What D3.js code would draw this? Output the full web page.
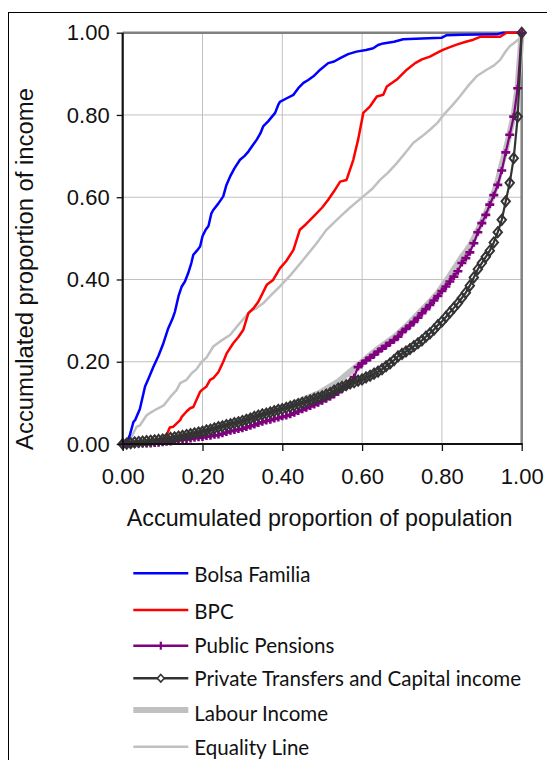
<!DOCTYPE html>
<html><head><meta charset="utf-8">
<script src="https://cdn.jsdelivr.net/npm/d3@7"></script>
<style>body{margin:0;background:#fff}svg{display:block}</style>
</head><body><svg id="c" width="547" height="760"></svg>
<script>
const xTicks = [0, 0.2, 0.4, 0.6, 0.8, 1];
const yTicks = [0, 0.2, 0.4, 0.6, 0.8, 1];
const xTitle = "Accumulated proportion of population";
const yTitle = "Accumulated proportion of income";
const seriesNames = ["Bolsa Familia", "BPC", "Public Pensions", "Private Transfers and Capital income", "Labour Income", "Equality Line"];

const population = [0,0.01,0.02,0.03,0.04,0.05,0.06,0.07,0.08,0.09,0.10,0.11,0.12,0.13,0.14,0.15,0.16,0.17,0.18,0.19,0.20,0.21,0.22,0.23,0.24,0.25,0.26,0.27,0.28,0.29,0.30,0.31,0.32,0.33,0.34,0.35,0.36,0.37,0.38,0.39,0.40,0.41,0.42,0.43,0.44,0.45,0.46,0.47,0.48,0.49,0.50,0.51,0.52,0.53,0.54,0.55,0.56,0.57,0.58,0.59,0.60,0.61,0.62,0.63,0.64,0.65,0.66,0.67,0.68,0.69,0.70,0.71,0.72,0.73,0.74,0.75,0.76,0.77,0.78,0.79,0.80,0.81,0.82,0.83,0.84,0.85,0.86,0.87,0.88,0.89,0.90,0.91,0.92,0.93,0.94,0.95,0.96,0.97,0.98,0.99,1.00];

const publicPensions = [0,0,0,0,0,0,0,0,0.001,0.002,0.003,0.004,0.005,0.007,0.009,0.010,0.011,0.012,0.014,0.015,0.016,0.018,0.019,0.021,0.022,0.025,0.028,0.031,0.033,0.035,0.037,0.040,0.043,0.046,0.050,0.053,0.056,0.058,0.061,0.063,0.066,0.068,0.071,0.075,0.079,0.083,0.087,0.091,0.095,0.099,0.104,0.109,0.114,0.120,0.126,0.133,0.140,0.150,0.163,0.187,0.196,0.203,0.210,0.217,0.225,0.232,0.239,0.246,0.253,0.261,0.272,0.280,0.288,0.297,0.307,0.318,0.328,0.338,0.349,0.360,0.372,0.383,0.395,0.407,0.420,0.440,0.452,0.466,0.488,0.515,0.537,0.557,0.582,0.605,0.630,0.665,0.709,0.752,0.796,0.865,1.000];

const privateTransfers = [0,0.001,0.002,0.004,0.005,0.006,0.007,0.008,0.009,0.010,0.011,0.013,0.015,0.016,0.018,0.020,0.022,0.024,0.026,0.028,0.030,0.033,0.035,0.038,0.041,0.043,0.046,0.048,0.051,0.053,0.056,0.059,0.062,0.066,0.069,0.072,0.074,0.077,0.080,0.083,0.085,0.088,0.091,0.094,0.097,0.100,0.103,0.106,0.110,0.113,0.116,0.120,0.124,0.130,0.135,0.139,0.143,0.147,0.150,0.154,0.157,0.162,0.166,0.171,0.176,0.182,0.189,0.196,0.204,0.213,0.219,0.225,0.231,0.238,0.245,0.252,0.261,0.269,0.278,0.289,0.298,0.309,0.320,0.331,0.342,0.355,0.368,0.385,0.405,0.425,0.440,0.455,0.470,0.490,0.515,0.545,0.590,0.635,0.695,0.796,1.000];

const labourIncome = [0,0.001,0.002,0.003,0.004,0.005,0.006,0.007,0.008,0.009,0.010,0.012,0.013,0.015,0.017,0.019,0.021,0.023,0.025,0.027,0.029,0.031,0.034,0.036,0.039,0.041,0.044,0.047,0.050,0.053,0.056,0.059,0.062,0.065,0.068,0.071,0.074,0.077,0.080,0.084,0.088,0.091,0.095,0.099,0.103,0.107,0.111,0.115,0.119,0.123,0.128,0.134,0.140,0.146,0.152,0.160,0.168,0.176,0.184,0.192,0.200,0.208,0.216,0.224,0.232,0.239,0.246,0.253,0.260,0.268,0.277,0.286,0.296,0.306,0.316,0.326,0.336,0.346,0.357,0.368,0.382,0.396,0.410,0.425,0.440,0.455,0.468,0.482,0.500,0.520,0.540,0.560,0.585,0.610,0.640,0.680,0.715,0.756,0.800,0.870,1.000];

const bolsaX = [0,0.01,0.018,0.027,0.031,0.043,0.056,0.065,0.077,0.09,0.102,0.114,0.125,0.131,0.14,0.148,0.156,0.164,0.172,0.177,0.186,0.194,0.2,0.208,0.215,0.222,0.227,0.24,0.252,0.26,0.269,0.28,0.294,0.305,0.315,0.325,0.336,0.345,0.352,0.365,0.382,0.39,0.394,0.41,0.428,0.44,0.453,0.465,0.478,0.495,0.515,0.53,0.545,0.565,0.586,0.61,0.628,0.64,0.653,0.68,0.703,0.75,0.8,0.812,0.85,0.937,0.953,1];
const bolsaY = [0,0.005,0.022,0.054,0.058,0.085,0.14,0.16,0.188,0.215,0.245,0.281,0.305,0.322,0.36,0.383,0.395,0.415,0.44,0.46,0.47,0.48,0.505,0.521,0.53,0.56,0.569,0.585,0.602,0.63,0.65,0.67,0.691,0.7,0.711,0.725,0.74,0.755,0.772,0.785,0.805,0.825,0.832,0.84,0.849,0.865,0.878,0.885,0.894,0.91,0.926,0.93,0.938,0.948,0.954,0.958,0.962,0.97,0.974,0.978,0.984,0.986,0.988,0.994,0.995,0.996,1,1];

const bpcX = [0,0.068,0.085,0.11,0.118,0.127,0.144,0.148,0.16,0.169,0.177,0.194,0.198,0.21,0.219,0.227,0.24,0.252,0.261,0.277,0.29,0.302,0.315,0.328,0.34,0.361,0.377,0.394,0.41,0.428,0.444,0.46,0.478,0.5,0.515,0.53,0.545,0.561,0.578,0.59,0.603,0.62,0.637,0.653,0.662,0.687,0.712,0.733,0.75,0.77,0.79,0.804,0.82,0.837,0.86,0.879,0.896,0.946,0.962,1];
const bpcY = [0,0,0.006,0.022,0.04,0.042,0.058,0.066,0.079,0.087,0.09,0.127,0.131,0.14,0.156,0.16,0.175,0.2,0.221,0.245,0.26,0.277,0.318,0.33,0.346,0.387,0.399,0.427,0.445,0.472,0.521,0.535,0.553,0.575,0.594,0.615,0.638,0.642,0.691,0.74,0.805,0.821,0.845,0.849,0.869,0.886,0.91,0.926,0.935,0.942,0.952,0.959,0.965,0.971,0.978,0.983,0.99,0.99,1,1];

const equalityX = [0,0.01,0.018,0.035,0.043,0.06,0.068,0.085,0.102,0.12,0.135,0.144,0.16,0.173,0.185,0.198,0.21,0.227,0.245,0.269,0.29,0.31,0.319,0.335,0.352,0.37,0.394,0.42,0.45,0.486,0.51,0.545,0.57,0.603,0.625,0.645,0.665,0.687,0.71,0.728,0.75,0.77,0.79,0.804,0.825,0.845,0.865,0.887,0.912,0.93,0.946,0.96,0.97,0.985,0.996,1];
const equalityY = [0,0.006,0.01,0.042,0.045,0.07,0.075,0.085,0.093,0.115,0.131,0.148,0.156,0.172,0.182,0.2,0.21,0.237,0.25,0.265,0.29,0.312,0.322,0.33,0.342,0.36,0.383,0.41,0.445,0.488,0.52,0.553,0.575,0.602,0.62,0.642,0.66,0.683,0.71,0.732,0.748,0.764,0.782,0.8,0.822,0.845,0.87,0.894,0.91,0.92,0.934,0.955,0.967,0.978,0.987,1];

const colors = {bolsa:"#0000ff", bpc:"#ff0000", pens:"#800080", priv:"#333333", labour:"#c0c0c0", equal:"#c0c0c0"};

const svg = d3.select("#c");
const x = d3.scaleLinear().domain([0,1]).range([122.7, 521.7]);
const y = d3.scaleLinear().domain([0,1]).range([444, 32.7]);

// outer chart border
svg.append("rect").attr("x",8.5).attr("y",12.5).attr("width",700).attr("height",900)
  .attr("fill","none").attr("stroke","#000").attr("stroke-width",1);

// gridlines
const grid = svg.append("g");
grid.selectAll("line.v").data(xTicks.slice(1,-1)).join("line")
  .attr("x1",d=>x(d)).attr("x2",d=>x(d)).attr("y1",y(0)).attr("y2",y(1))
  .attr("stroke","#c0c0c0").attr("stroke-width",1);
grid.selectAll("line.h").data(yTicks.slice(1,-1)).join("line")
  .attr("y1",d=>y(d)).attr("y2",d=>y(d)).attr("x1",x(0)).attr("x2",x(1))
  .attr("stroke","#c0c0c0").attr("stroke-width",1);
grid.append("line").attr("x1",x(0)).attr("x2",x(1)+1).attr("y1",y(1)).attr("y2",y(1)).attr("stroke","#808080").attr("stroke-width",2.5);
grid.append("line").attr("x1",x(1)).attr("x2",x(1)).attr("y1",y(1)).attr("y2",y(0)).attr("stroke","#808080").attr("stroke-width",2.5);

const line = d3.line().x(d=>x(d[0])).y(d=>y(d[1]));
const zip = (xs, ys) => xs.map((v,i)=>[v, ys[i]]);

const g = svg.append("g");
g.append("path").attr("d", line(zip(population, labourIncome))).attr("fill","none").attr("stroke",colors.labour).attr("stroke-width",6).attr("stroke-linejoin","round");
g.append("path").attr("d", line(zip(equalityX, equalityY))).attr("fill","none").attr("stroke",colors.equal).attr("stroke-width",2.5).attr("stroke-linejoin","round");
g.append("path").attr("d", line(zip(bolsaX, bolsaY))).attr("fill","none").attr("stroke",colors.bolsa).attr("stroke-width",2.5).attr("stroke-linejoin","round");
g.append("path").attr("d", line(zip(bpcX, bpcY))).attr("fill","none").attr("stroke",colors.bpc).attr("stroke-width",2.5).attr("stroke-linejoin","round");

const pensData = zip(population, publicPensions);
g.append("path").attr("d", line(pensData)).attr("fill","none").attr("stroke",colors.pens).attr("stroke-width",2.2);
g.selectAll("path.plus").data(pensData).join("path").attr("class","plus")
  .attr("transform",d=>`translate(${x(d[0])},${y(d[1])})`)
  .attr("d","M-4.5,0H4.5M0,-3.5V3.5").attr("stroke",colors.pens).attr("stroke-width",2.6).attr("fill","none");

const privData = zip(population, privateTransfers);
g.append("path").attr("d", line(privData)).attr("fill","none").attr("stroke",colors.priv).attr("stroke-width",2.2);
g.selectAll("path.dia").data(privData).join("path").attr("class","dia")
  .attr("transform",d=>`translate(${x(d[0])},${y(d[1])})`)
  .attr("d","M0,-5L4.2,0L0,5L-4.2,0Z").attr("stroke",colors.priv).attr("stroke-width",2).attr("fill","none");

// axes
const axL = svg.append("g").attr("transform",`translate(${x(0)},0)`)
  .call(d3.axisLeft(y).tickValues(yTicks).tickSize(6).tickPadding(7).tickFormat(d3.format(".2f")));
const axB = svg.append("g").attr("transform",`translate(0,${y(0)})`)
  .call(d3.axisBottom(x).tickValues(xTicks).tickSize(7).tickPadding(6).tickFormat(d3.format(".2f")));
[axL, axB].forEach(a=>{
  a.select(".domain").attr("stroke","#111").attr("stroke-width",2.2);
  a.selectAll(".tick line").attr("stroke","#111").attr("stroke-width",1.3);
  a.selectAll(".tick text").attr("font-family","'Liberation Sans', Arial, sans-serif").attr("font-size",22).attr("fill","#111");
});
axL.select(".domain").attr("d",`M0,${y(1)}V${y(0)}`);
axB.select(".domain").attr("d",`M${x(0)},0H${x(1)+1}`);
axB.selectAll(".tick text").attr("dy",null).attr("y",40);

function fitText(sel, target){
  const len = sel.node().getComputedTextLength();
  const fs = parseFloat(sel.attr("font-size"));
  sel.attr("font-size", fs*target/len);
}

const xt = svg.append("text").attr("x",319.7).attr("y",526).attr("text-anchor","middle")
  .attr("font-family","'Liberation Sans', Arial, sans-serif").attr("font-size",22).attr("fill","#111").text(xTitle);
fitText(xt, 386);
const yt = svg.append("text").attr("transform","translate(33,269) rotate(-90)").attr("text-anchor","middle")
  .attr("font-family","'Liberation Sans', Arial, sans-serif").attr("font-size",22).attr("fill","#111").text(yTitle);
fitText(yt, 362);

// legend
const legBase = [581.7, 619.3, 653.3, 685.7, 720.7, 755];
const legLineY = [573.3, 610, 645.7, 678.3, 710, 746.7];
const legStyles = [
  {c:colors.bolsa, w:2.5}, {c:colors.bpc, w:2.5}, {c:colors.pens, w:2.5, m:"plus"},
  {c:colors.priv, w:2.5, m:"dia"}, {c:colors.labour, w:6}, {c:colors.equal, w:2.5}];
const idx = d => seriesNames.indexOf(d);
const leg = svg.append("g");
const items = leg.selectAll("g").data(seriesNames).join("g");
items.append("line").attr("x1",133.3).attr("x2",188.3).attr("y1",d=>legLineY[idx(d)]).attr("y2",d=>legLineY[idx(d)])
  .attr("stroke",d=>legStyles[idx(d)].c).attr("stroke-width",d=>legStyles[idx(d)].w);
items.filter(d=>legStyles[idx(d)].m==="plus").append("path")
  .attr("transform",d=>`translate(160.8,${legLineY[idx(d)]})`).attr("d","M0,-4V4").attr("stroke",colors.pens).attr("stroke-width",2.2);
items.filter(d=>legStyles[idx(d)].m==="dia").append("path")
  .attr("transform",d=>`translate(160.8,${legLineY[idx(d)]})`).attr("d","M0,-3.8L3.5,0L0,3.8L-3.5,0Z").attr("stroke",colors.priv).attr("stroke-width",1.6).attr("fill","#fff");
const legTexts = items.append("text").attr("x",194.3).attr("y",d=>legBase[idx(d)])
  .attr("font-family","Lato, 'Open Sans', sans-serif").attr("font-size",20).attr("fill","#111").text(d=>d);
const l0 = legTexts.filter(d=>idx(d)===3).node().getComputedTextLength();
legTexts.attr("font-size", 20*327/l0);
</script></body></html>
